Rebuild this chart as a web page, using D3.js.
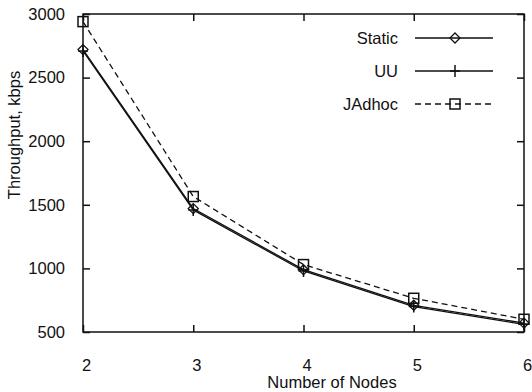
<!DOCTYPE html>
<html><head><meta charset="utf-8">
<script src="https://cdn.jsdelivr.net/npm/d3@7"></script>
<style>body{margin:0;background:#fff}svg{display:block}text{font-family:"Liberation Sans",Arial,sans-serif;font-size:16.5px;fill:#111}</style>
</head><body>
<script>
const nodes = [2, 3, 4, 5, 6];
const staticVals = [2720, 1470, 990, 710, 570];
const uuVals = [2710, 1460, 980, 700, 560];
const jadhocVals = [2940, 1565, 1030, 765, 600];
const yTicks = [500, 1000, 1500, 2000, 2500, 3000];
const seriesNames = ["Static", "UU", "JAdhoc"];

const W = 532, H = 392;
const m = {l: 83, r: 8, t: 14, b: 60};
const svg = d3.select("body").append("svg").attr("width", W).attr("height", H);
const x = d3.scaleLinear().domain([2, 6]).range([m.l, W - m.r]);
const y = d3.scaleLinear().domain([500, 3000]).range([H - m.b, m.t]);
const ink = "#111";
const FS = 16.5;

// frame
svg.append("rect").attr("x", x(2)).attr("y", y(3000)).attr("width", x(6) - x(2)).attr("height", y(500) - y(3000))
  .attr("fill", "none").attr("stroke", ink).attr("stroke-width", 1.5);

// axes
const xb = svg.append("g").attr("transform", `translate(0,${y(500)})`)
  .call(d3.axisBottom(x).tickValues(nodes).tickSize(-7).tickPadding(27).tickFormat(d3.format("d")));
const xt = svg.append("g").attr("transform", `translate(0,${y(3000)})`)
  .call(d3.axisTop(x).tickValues(nodes).tickSize(-7).tickFormat(""));
const yl = svg.append("g").attr("transform", `translate(${x(2)},0)`)
  .call(d3.axisLeft(y).tickValues(yTicks).tickSize(-7).tickPadding(18).tickFormat(d3.format("d")));
const yr = svg.append("g").attr("transform", `translate(${x(6)},0)`)
  .call(d3.axisRight(y).tickValues(yTicks).tickSize(-7).tickFormat(""));
[xb, xt, yl, yr].forEach(g => {
  g.select(".domain").remove();
  g.selectAll("line").attr("stroke", ink).attr("stroke-width", 1.5);
  g.selectAll("text").attr("font-size", FS).attr("fill", ink).attr("font-family", "Liberation Sans, Arial, sans-serif");
});
xb.selectAll("text").attr("dx", 3);

svg.append("text").attr("x", 332).attr("y", 388).attr("text-anchor", "middle").text("Number of Nodes");
svg.append("text").attr("transform", `translate(20,135) rotate(-90)`).attr("text-anchor", "middle").text("Throughput, kbps");

const series = [
  {name: seriesNames[0], vals: staticVals, dash: null, mk: "diamond"},
  {name: seriesNames[1], vals: uuVals, dash: null, mk: "plus"},
  {name: seriesNames[2], vals: jadhocVals, dash: "6,4", mk: "square"}
];
const line = d3.line().x((d, i) => x(nodes[i])).y(d => y(d));

function marker(g, mk, cx, cy) {
  if (mk === "diamond") {
    g.append("path").attr("d", `M${cx},${cy-5}L${cx+5},${cy}L${cx},${cy+5}L${cx-5},${cy}Z`)
      .attr("fill", "none").attr("stroke", ink).attr("stroke-width", 1.3);
  } else if (mk === "plus") {
    g.append("path").attr("d", `M${cx-5},${cy}H${cx+5}M${cx},${cy-6}V${cy+6}`)
      .attr("fill", "none").attr("stroke", ink).attr("stroke-width", 1.5);
  } else {
    g.append("rect").attr("x", cx - 5).attr("y", cy - 5).attr("width", 10).attr("height", 10)
      .attr("fill", "none").attr("stroke", ink).attr("stroke-width", 1.5);
  }
}

series.forEach(s => {
  svg.append("path").datum(s.vals).attr("d", line).attr("fill", "none").attr("stroke", ink)
    .attr("stroke-width", 1.3).attr("stroke-dasharray", s.dash);
  const g = svg.append("g");
  s.vals.forEach((v, i) => marker(g, s.mk, x(nodes[i]), y(v)));
});

// legend
const legY = [38, 71, 104];
series.forEach((s, i) => {
  const ly = legY[i];
  svg.append("text").attr("x", 398).attr("y", ly + 6).attr("text-anchor", "end").text(s.name);
  svg.append("line").attr("x1", 415).attr("x2", 493).attr("y1", ly).attr("y2", ly)
    .attr("stroke", ink).attr("stroke-width", 1.5).attr("stroke-dasharray", s.dash);
  const g = svg.append("g");
  marker(g, s.mk, 455, ly);
});
</script>
</body></html>
